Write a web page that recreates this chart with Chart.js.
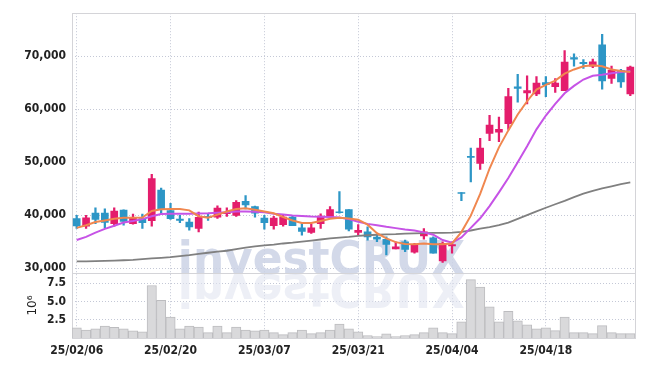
<!DOCTYPE html>
<html>
<head>
<meta charset="utf-8">
<script src="https://cdn.jsdelivr.net/npm/chart.js@4.4.1/dist/chart.umd.min.js"></script>
<style>
  html, body { margin: 0; padding: 0; background: #fff; }
</style>
</head>
<body>
<canvas id="myChart" width="645" height="366"></canvas>
<script>
// trading days (yy/mm/dd)
const dates = [
  "25/02/06", "25/02/07", "25/02/10", "25/02/11", "25/02/12", "25/02/13", "25/02/14", "25/02/17", "25/02/18", "25/02/19",
  "25/02/20", "25/02/21", "25/02/24", "25/02/25", "25/02/26", "25/02/27", "25/02/28", "25/03/04", "25/03/05", "25/03/06",
  "25/03/07", "25/03/10", "25/03/11", "25/03/12", "25/03/13", "25/03/14", "25/03/17", "25/03/18", "25/03/19", "25/03/20",
  "25/03/21", "25/03/24", "25/03/25", "25/03/26", "25/03/27", "25/03/28", "25/03/31", "25/04/01", "25/04/02", "25/04/03",
  "25/04/04", "25/04/07", "25/04/08", "25/04/09", "25/04/10", "25/04/11", "25/04/14", "25/04/15", "25/04/16", "25/04/17",
  "25/04/18", "25/04/21", "25/04/22", "25/04/23", "25/04/24", "25/04/25", "25/04/28", "25/04/29", "25/04/30", "25/05/02"
];

const open = [
  39330, 37900, 40380, 40380, 38400, 40940, 38400, 39330, 38950, 44720,
  40880, 39270, 38710, 37470, 39760, 39640, 40260, 39950, 42620, 41620,
  39450, 38030, 38210, 39640, 37590, 36730, 38400, 39760, 40630, 41070,
  36720, 36840, 35850, 35420, 33620, 34980, 33000, 36100, 35720, 31380,
  34170, 44280, 51100, 49740, 55440, 55680, 57290, 64240, 63060, 62870,
  65040, 64240, 63490, 69750, 68830, 68140, 72170, 65790, 67340, 62870
];
const high = [
  39950, 39950, 41370, 41190, 41370, 41000, 40200, 40200, 47700, 45090,
  42240, 39950, 39330, 40570, 40260, 41750, 41380, 42740, 43670, 41700,
  39950, 39760, 40070, 39760, 38400, 38340, 40260, 41620, 44470, 41070,
  38200, 37770, 36220, 35910, 34980, 35290, 34670, 37460, 35910, 34980,
  34980, 44280, 52650, 54510, 58850, 58530, 63930, 66590, 66280, 66160,
  66160, 65790, 71060, 70440, 69380, 69440, 74150, 68140, 67520, 68140
];
const low = [
  37470, 37470, 38400, 37590, 37900, 38090, 38300, 37470, 37900, 40260,
  39200, 38580, 37160, 36850, 39020, 39390, 39760, 39760, 41190, 39640,
  37340, 37340, 37900, 38030, 36230, 36540, 37470, 39520, 40380, 37030,
  36220, 35290, 34980, 32500, 33620, 33120, 32810, 35480, 32810, 31070,
  32810, 42730, 46270, 48620, 54080, 53880, 56180, 61320, 61010, 62560,
  62380, 63180, 63490, 68140, 67710, 67830, 63800, 64860, 64110, 62560
];
const close = [
  37970, 39510, 39200, 38640, 40750, 38830, 39510, 38580, 46890, 41190,
  39330, 39020, 37780, 39580, 39510, 41310, 40450, 42430, 41930, 40380,
  38580, 39450, 39640, 38030, 36910, 37590, 39830, 41070, 40450, 37340,
  37150, 35910, 35480, 34490, 34000, 33550, 34490, 36840, 32810, 34670,
  34420, 44090, 50910, 52650, 56990, 56180, 62370, 63930, 63490, 64920,
  64610, 64920, 68890, 69450, 68580, 68950, 65350, 67340, 65170, 67960
];

// volume, millions of shares
const volume = [
  1.38, 1.10, 1.24, 1.65, 1.47, 1.24, 0.97, 0.83, 7.19, 5.16,
  2.86, 1.24, 1.65, 1.51, 0.74, 1.65, 0.74, 1.51, 1.10, 0.97,
  1.10, 0.74, 0.47, 0.74, 1.10, 0.60, 0.74, 1.10, 1.92, 1.24,
  0.83, 0.34, 0.20, 0.56, 0.20, 0.34, 0.47, 0.74, 1.38, 0.74,
  0.60, 2.23, 8.00, 6.96, 4.26, 2.23, 3.67, 2.36, 1.82, 1.24,
  1.38, 1.01, 2.86, 0.74, 0.74, 0.60, 1.69, 0.74, 0.60, 0.60
];

// moving averages
const maShort = [
  37600, 38100, 38700, 39000, 39300, 39500, 39500, 39550, 40800, 41100,
  41150, 41150, 40900, 39800, 39500, 40100, 40700, 41150, 41300, 41000,
  40700, 40350, 39650, 39000, 38500, 38500, 38900, 39300, 39500, 39350,
  39150, 38200, 36600, 35600, 34900, 34550, 34500, 34650, 34500, 34500,
  34650, 36800, 39900, 44000, 48800, 52800, 56000, 59000, 61500, 63700,
  64600, 65400, 66700, 67500, 68100, 68300, 68100, 67500, 67200, 67000
];
const maMid = [
  35300, 35900, 36700, 37400, 38000, 38600, 38900, 39250, 39800, 40200,
  40250, 40250, 40250, 40300, 40350, 40450, 40550, 40700, 40700, 40650,
  40550, 40250, 40100, 39950, 39850, 39750, 39700, 39650, 39550, 39250,
  38750, 38350, 38100, 37800, 37550, 37300, 37100, 36750, 36300, 35300,
  34800, 35800, 37600, 39400, 41700, 44300, 47000, 50000, 53000, 56200,
  58800, 61000, 63000, 64400, 65600, 66300, 66500, 66800, 67000, 67200
];
const maLong = [
  31270, 31290, 31320, 31370, 31420, 31480, 31560, 31680, 31820, 31950,
  32070, 32250, 32450, 32700, 32900, 33100, 33280, 33600, 33850, 34100,
  34300, 34450, 34650, 34800, 35000, 35200, 35400, 35600, 35750, 35900,
  36100, 36200, 36300, 36350, 36400, 36500, 36550, 36600, 36650, 36650,
  36700, 36850, 37100, 37450, 37750, 38100, 38600, 39300, 40000, 40700,
  41400, 42050, 42700, 43400, 44050, 44600, 45050, 45450, 45850, 46200
];

const xTickLabels = ["25/02/06", "25/02/20", "25/03/07", "25/03/21", "25/04/04", "25/04/18"];
const priceTicks = [30000, 40000, 50000, 60000, 70000];
const volTicks = [2.5, 5, 7.5];

const UP = "#e41d6c";
const DOWN = "#2d96c6";
const GRID = "#c4c8d6";
const FRAME = "#d4d4d8";
const TICK_FONT = { family: "'DejaVu Sans Condensed', 'DejaVu Sans', sans-serif", size: 12, weight: "bold" };

const candleColors = close.map((c, i) => (c >= open[i] ? UP : DOWN));

// frames around the two panels
const panelFrames = {
  id: "panelFrames",
  beforeDatasetsDraw(chart) {
    const { ctx, chartArea } = chart;
    ctx.save();
    ctx.strokeStyle = FRAME;
    ctx.lineWidth = 1;
    ["y", "yv"].forEach(function (id) {
      const s = chart.scales[id];
      ctx.strokeRect(Math.round(chartArea.left) + 0.5, Math.round(s.top) + 0.5,
        Math.round(chartArea.right - chartArea.left), Math.round(s.bottom - s.top));
    });
    ctx.restore();
  }
};

// "investCRUX" watermark with its mirror image
const watermark = {
  id: "watermark",
  beforeDatasetsDraw(chart) {
    const { ctx, chartArea } = chart;
    const base = chart.scales.y.bottom + 1;
    const left = chartArea.left + (chartArea.right - chartArea.left) * 0.188;
    const targetW = (chartArea.right - chartArea.left) * 0.51;
    ctx.save();
    ctx.font = "bold 46px 'DejaVu Sans', sans-serif";
    const w = ctx.measureText("investCRUX").width;
    ctx.translate(left, base);
    ctx.scale(targetW / w, 1);
    ctx.fillStyle = "rgba(203, 210, 229, 0.85)";
    ctx.fillText("investCRUX", 0, 0);
    ctx.scale(1, -1);
    ctx.fillStyle = "rgba(225, 229, 240, 0.6)";
    ctx.fillText("investCRUX", 0, 0);
    ctx.restore();
  }
};

const config = {
  data: {
    labels: dates,
    datasets: [
      { type: "line", data: maShort, borderColor: "#f0874f", borderWidth: 2, pointRadius: 0, yAxisID: "y", order: 0 },
      { type: "line", data: maMid, borderColor: "#c653e6", borderWidth: 2, pointRadius: 0, yAxisID: "y", order: 0 },
      { type: "line", data: maLong, borderColor: "#808080", borderWidth: 1.8, pointRadius: 0, yAxisID: "y", order: 0 },
      {
        type: "bar", yAxisID: "y", order: 1, grouped: false, barThickness: 1.6,
        data: dates.map((d, i) => [low[i], high[i]]),
        backgroundColor: candleColors
      },
      {
        type: "bar", yAxisID: "y", order: 1, grouped: false, barThickness: 7,
        data: dates.map((d, i) => [open[i], close[i]]),
        backgroundColor: candleColors
      },
      {
        type: "bar", yAxisID: "yv", order: 2, grouped: false,
        data: volume, barPercentage: 1, categoryPercentage: 1,
        backgroundColor: "#d9d9db", borderColor: "#bcbcbf", borderWidth: 1
      }
    ]
  },
  options: {
    responsive: false,
    animation: false,
    devicePixelRatio: 1,
    layout: { padding: { top: 8, right: 10, left: 0, bottom: 0 } },
    plugins: { legend: { display: false }, tooltip: { enabled: false } },
    scales: {
      x: {
        type: "category",
        offset: true,
        border: { display: false, dash: [1, 2] },
        grid: {
          offset: false,
          drawTicks: false,
          color: (c) => (c.tick && xTickLabels.includes(dates[c.tick.value]) ? GRID : "rgba(0,0,0,0)")
        },
        ticks: {
          autoSkip: false, maxRotation: 0, padding: 6, color: "#222", font: TICK_FONT,
          callback: function (v) {
            const l = this.getLabelForValue(v);
            return xTickLabels.includes(l) ? l : "";
          }
        },
        afterFit: (s) => { s.height = 28; }
      },
      // listed first so it sits under the price panel
      yv: {
        position: "left", stack: "panels", stackWeight: 1,
        min: 0, max: 8.9,
        border: { display: false, dash: [1, 2] },
        grid: { color: GRID, drawTicks: false },
        title: { display: true, text: "10⁶", color: "#222", padding: { top: 26 }, font: { family: "'DejaVu Sans', sans-serif", size: 12 } },
        ticks: {
          padding: 6, color: "#222", font: TICK_FONT,
          callback: (v) => v.toFixed(1)
        },
        afterBuildTicks: (s) => { s.ticks = volTicks.map((v) => ({ value: v })); },
        afterFit: (s) => { s.width = 72; }
      },
      y: {
        position: "left", stack: "panels", stackWeight: 4,
        min: 29070, max: 78120,
        border: { display: false, dash: [1, 2] },
        grid: { color: GRID, drawTicks: false },
        ticks: {
          padding: 6, color: "#222", font: TICK_FONT,
          callback: (v) => v.toLocaleString("en-US")
        },
        afterBuildTicks: (s) => { s.ticks = priceTicks.map((v) => ({ value: v })); },
        afterFit: (s) => { s.width = 72; }
      }
    }
  },
  plugins: [watermark, panelFrames]
};

const myChart = new Chart(document.getElementById("myChart"), config);
</script>
</body>
</html>
